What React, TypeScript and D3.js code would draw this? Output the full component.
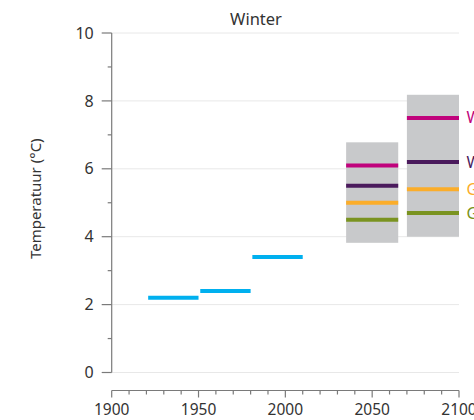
import React from 'react'
import * as d3 from 'd3'

// observed periods (blue) and future scenarios
const observedPeriods = [
  { from: 1921, to: 1950, value: 2.2 },
  { from: 1951, to: 1980, value: 2.4 },
  { from: 1981, to: 2010, value: 3.4 },
]

const scenarioNames = ['WH', 'WL', 'GH', 'GL']
const scenarioColors = ['#c0037c', '#4a1a5c', '#fbad2a', '#7a9320']

const futurePeriods = [
  { from: 2035, to: 2065, low: 3.82, high: 6.78, values: [6.1, 5.5, 5.0, 4.5] },
  { from: 2070, to: 2100, low: 4.0, high: 8.18, values: [7.5, 6.2, 5.4, 4.7] },
]

const yTicks = [0, 2, 4, 6, 8, 10]
const yMinorTicks = [1, 3, 5, 7, 9]
const xTicks = [1900, 1950, 2000, 2050, 2100]

const font = '"Noto Sans", Lato, sans-serif'

const App = () => {
  const width = 474
  const height = 420

  const x = d3.scaleLinear().domain([1900, 2100]).range([111.7, 459])
  const y = d3.scaleLinear().domain([0, 10]).range([372.5, 33])

  const xMinor = d3.range(1900, 2101, 10).filter((d) => d % 50 !== 0)
  const axisY = 390.5
  const axisColor = '#7a7a7a'
  const textColor = '#333'

  return (
    <svg
      width={width}
      height={height}
      style={{ position: 'absolute', left: 0, top: 0, fontFamily: font }}
    >
      <rect width={width} height={height} fill="#fff" />

      {/* gridlines */}
      {yTicks.map((t) => (
        <line key={`g${t}`} x1={x(1900)} x2={x(2100)} y1={y(t)} y2={y(t)} stroke="#e8e8e8" strokeWidth={1} />
      ))}

      {/* y axis */}
      <line x1={x(1900)} x2={x(1900)} y1={y(10)} y2={y(0)} stroke={axisColor} strokeWidth={1.2} />
      {yTicks.map((t) => (
        <g key={`y${t}`}>
          <line x1={x(1900) - 10} x2={x(1900)} y1={y(t)} y2={y(t)} stroke={axisColor} strokeWidth={1.2} />
          <text x={x(1900) - 18} y={y(t)} dy="0.35em" textAnchor="end" fontSize={16} fill={textColor}>
            {t}
          </text>
        </g>
      ))}
      {yMinorTicks.map((t) => (
        <line key={`ym${t}`} x1={x(1900) - 4} x2={x(1900)} y1={y(t)} y2={y(t)} stroke={axisColor} strokeWidth={1.2} />
      ))}
      <text
        transform={`translate(36,${(y(0) + y(10)) / 2 - 4}) rotate(-90)`}
        textAnchor="middle"
        dy="0.35em"
        fontSize={15}
        fill={textColor}
      >
        Temperatuur (°C)
      </text>

      {/* x axis */}
      <line x1={x(1900)} x2={x(2100)} y1={axisY} y2={axisY} stroke={axisColor} strokeWidth={1.2} />
      {xTicks.map((t) => (
        <g key={`x${t}`}>
          <line x1={x(t)} x2={x(t)} y1={axisY} y2={axisY + 7} stroke={axisColor} strokeWidth={1.2} />
          <text x={x(t)} y={axisY + 19} dy="0.35em" textAnchor="middle" fontSize={15.5} fill={textColor}>
            {t}
          </text>
        </g>
      ))}
      {xMinor.map((t) => (
        <line key={`xm${t}`} x1={x(t)} x2={x(t)} y1={axisY} y2={axisY + 4} stroke={axisColor} strokeWidth={1.2} />
      ))}

      {/* title */}
      <text x={256} y={19} dy="0.35em" textAnchor="middle" fontSize={16.5} fill={textColor}>
        Winter
      </text>

      {/* observed */}
      {observedPeriods.map((p) => (
        <line
          key={p.from}
          x1={x(p.from)}
          x2={x(p.to)}
          y1={y(p.value)}
          y2={y(p.value)}
          stroke="#00b0ef"
          strokeWidth={4}
        />
      ))}

      {/* scenario ranges */}
      {futurePeriods.map((p) => (
        <g key={p.from}>
          <rect
            x={x(p.from)}
            y={y(p.high)}
            width={x(p.to) - x(p.from)}
            height={y(p.low) - y(p.high)}
            fill="#c8c9cb"
          />
          {p.values.map((v, i) => (
            <line
              key={i}
              x1={x(p.from)}
              x2={x(p.to)}
              y1={y(v)}
              y2={y(v)}
              stroke={scenarioColors[i]}
              strokeWidth={4}
            />
          ))}
        </g>
      ))}

      {/* scenario labels */}
      {scenarioNames.map((name, i) => (
        <text
          key={name}
          x={466.5}
          y={y(futurePeriods[1].values[i])}
          dy="0.35em"
          fontSize={16}
          fill={scenarioColors[i]}
        >
          {name}
        </text>
      ))}
    </svg>
  )
}

export default App
